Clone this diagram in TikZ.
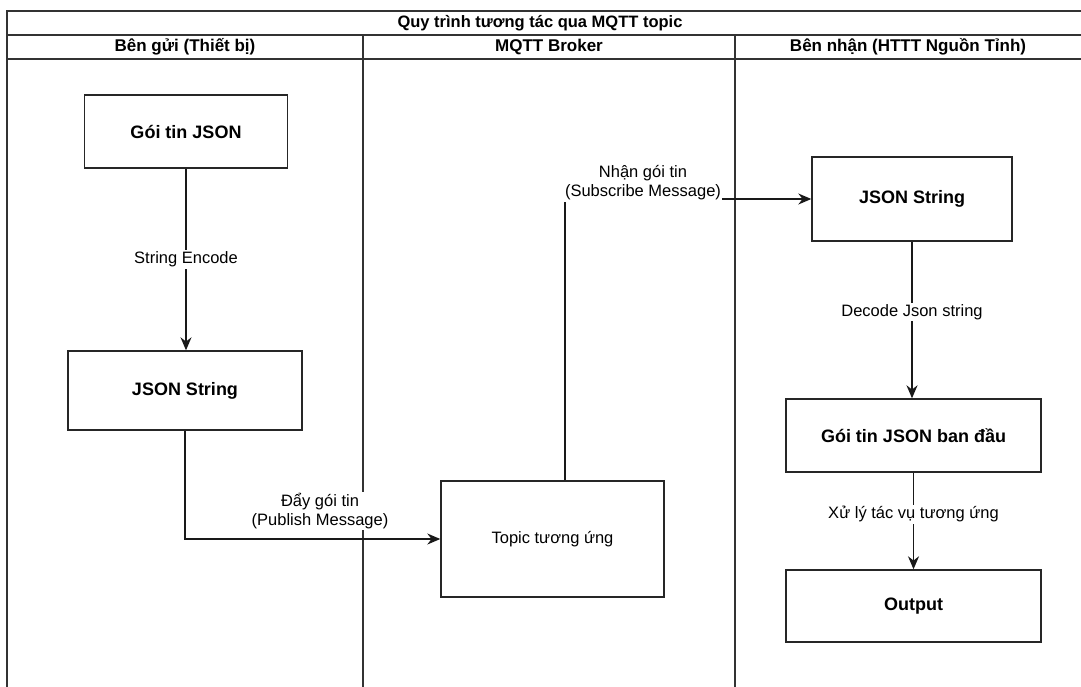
\documentclass[tikz,border=0pt]{standalone}
\usepackage{fontspec}
\setmainfont{Liberation Sans}
\usetikzlibrary{arrows.meta}
\begin{document}
\begin{tikzpicture}[x=1pt,y=-1pt,
  frameline/.style={draw=black!80, line width=1.4pt},
  stepbox/.style={draw=black!85, line width=1.4pt, fill=white, inner sep=0pt,
    font=\fontsize{18}{21}\selectfont\bfseries},
  plainbox/.style={stepbox, font=\fontsize{16.5}{19}\selectfont},
  conn/.style={draw=black!90, line width=1.4pt, -{Stealth[length=13pt,width=11pt]}},
  lbl/.style={fill=white, inner sep=1.5pt, align=center,
    font=\fontsize{16.5}{19}\selectfont},
  head/.style={font=\fontsize{17}{19}\selectfont\bfseries, inner sep=0pt}
]
\useasboundingbox (0,0) rectangle (1081,686);

% swimlane frame, open on the right and at the bottom
\begin{scope}
  \clip (0,0) rectangle (1081,686);
  \draw[frameline] (1095,11) -- (7,11) -- (7,700);
  \draw[frameline] (7,35) -- (1095,35);
  \draw[frameline] (7,59) -- (1095,59);
  \draw[frameline] (363,35) -- (363,700);
  \draw[frameline] (735,35) -- (735,700);
\end{scope}

% headers
\node[head, font=\fontsize{16.5}{19}\selectfont\bfseries] (title) at (540,23) {Quy trình tương tác qua MQTT topic};
\node[head] (lane1) at (185,47) {Bên gửi (Thiết bị)};
\node[head] (lane2) at (549,47) {MQTT Broker};
\node[head] (lane3) at (908,47) {Bên nhận (HTTT Nguồn Tỉnh)};

% process boxes
\node[stepbox, minimum width=203pt, minimum height=73pt] (a) at (186,131.5) {Gói tin JSON};
\node[stepbox, minimum width=234pt, minimum height=79pt] (b) at (185,390.5) {JSON String};
\node[plainbox, minimum width=223pt, minimum height=116pt] (c) at (552.5,539) {Topic tương ứng};
\node[stepbox, minimum width=200pt, minimum height=84pt] (d) at (912,199) {JSON String};
\node[stepbox, minimum width=255pt, minimum height=73pt] (e) at (913.5,435.5) {Gói tin JSON ban đầu};
\node[stepbox, minimum width=255pt, minimum height=72pt] (f) at (913.5,606) {Output};

% connectors
\draw[conn] (a.south) -- node[lbl] (lenc) {String Encode} (a.south |- b.north);
\draw[conn] (b.south) |- (c.west);
\draw[conn] ([xshift=12.5pt]c.north) |- (d.west);
\draw[conn] (d.south) -- node[lbl, pos=0.45] (ldec) {Decode Json string} (d.south |- e.north);
\draw[conn] (e) -- node[lbl, pos=0.43] (lproc) {Xử lý tác vụ tương ứng} (f);

% labels on the bent connectors
\node[lbl] (lpub) at (320,511) {Đẩy gói tin\\(Publish Message)};
\node[lbl] (lsub) at (643,183) {Nhận gói tin\\(Subscribe Message)};
\end{tikzpicture}
\end{document}
